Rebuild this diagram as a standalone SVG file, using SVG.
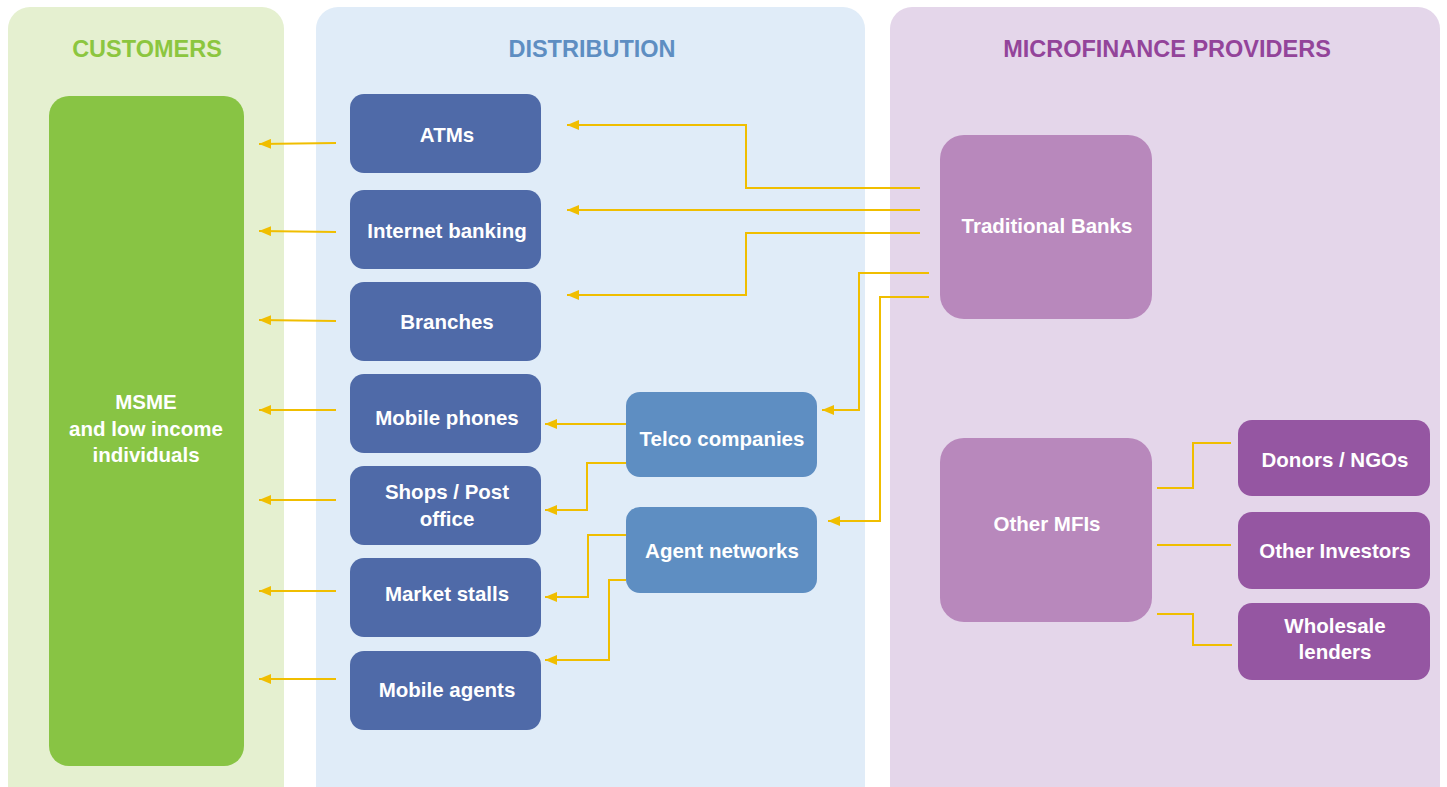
<svg xmlns="http://www.w3.org/2000/svg" width="1447" height="787" viewBox="0 0 1447 787">
<defs>
<marker id="ah" viewBox="0 0 12 10" refX="12" refY="5" markerWidth="12" markerHeight="10" markerUnits="userSpaceOnUse" orient="auto-start-reverse">
<path d="M12,5 L0,0 L0,10 Z" fill="#F0BE00"/>
</marker>
<style>
.hd{font-family:"Liberation Sans",Arial,sans-serif;font-weight:bold;font-size:23.5px;text-anchor:middle}
.t{font-family:"Liberation Sans",Arial,sans-serif;font-weight:bold;font-size:20.5px;fill:#fff;text-anchor:middle}
.d{fill:#4F6AA8}
.m{fill:#5E8EC2}
.b{fill:#B888BC}
.p{fill:#9556A2}
.c{fill:none;stroke:#F0BE00;stroke-width:2}
.a{marker-start:url(#ah)}
</style>
</defs>
<g id="panels">
<rect x="8" y="7" width="276" height="800" rx="22" fill="#E5F0D0"/>
<rect x="316" y="7" width="549" height="800" rx="22" fill="#E0ECF8"/>
<rect x="890" y="7" width="550" height="800" rx="22" fill="#E4D6EA"/>
<text class="hd" x="147" y="57" fill="#8CC63F">CUSTOMERS</text>
<text class="hd" x="592" y="57" fill="#5E8EC2">DISTRIBUTION</text>
<text class="hd" x="1167" y="57" fill="#93449A">MICROFINANCE PROVIDERS</text>
</g>
<g id="msme">
<rect x="49" y="96" width="195" height="670" rx="20" fill="#88C444"/>
<text class="t" x="146" y="409">MSME</text>
<text class="t" x="146" y="436">and low income</text>
<text class="t" x="146" y="462">individuals</text>
</g>
<g id="atms"><rect class="d" x="350" y="94" width="191" height="79" rx="14"/><text class="t" x="447" y="142">ATMs</text></g>
<g id="internet"><rect class="d" x="350" y="190" width="191" height="79" rx="14"/><text class="t" x="447" y="238">Internet banking</text></g>
<g id="branches"><rect class="d" x="350" y="282" width="191" height="79" rx="14"/><text class="t" x="447" y="329">Branches</text></g>
<g id="mobilephones"><rect class="d" x="350" y="374" width="191" height="79" rx="14"/><text class="t" x="447" y="425">Mobile phones</text></g>
<g id="shops"><rect class="d" x="350" y="466" width="191" height="79" rx="14"/><text class="t" x="447" y="499">Shops / Post</text><text class="t" x="447" y="526">office</text></g>
<g id="stalls"><rect class="d" x="350" y="558" width="191" height="79" rx="14"/><text class="t" x="447" y="601">Market stalls</text></g>
<g id="mobileagents"><rect class="d" x="350" y="651" width="191" height="79" rx="14"/><text class="t" x="447" y="697">Mobile agents</text></g>
<g id="telco"><rect class="m" x="626" y="392" width="191" height="85" rx="14"/><text class="t" x="722" y="446">Telco companies</text></g>
<g id="agentnet"><rect class="m" x="626" y="507" width="191" height="86" rx="14"/><text class="t" x="722" y="558">Agent networks</text></g>
<g id="banks"><rect class="b" x="940" y="135" width="212" height="184" rx="24"/><text class="t" x="1047" y="233">Traditional Banks</text></g>
<g id="othermfis"><rect class="b" x="940" y="438" width="212" height="184" rx="24"/><text class="t" x="1047" y="531">Other MFIs</text></g>
<g id="donors"><rect class="p" x="1238" y="420" width="192" height="76" rx="14"/><text class="t" x="1335" y="467">Donors / NGOs</text></g>
<g id="investors"><rect class="p" x="1238" y="512" width="192" height="77" rx="14"/><text class="t" x="1335" y="558">Other Investors</text></g>
<g id="wholesale"><rect class="p" x="1238" y="603" width="192" height="77" rx="14"/><text class="t" x="1335" y="633">Wholesale</text><text class="t" x="1335" y="659">lenders</text></g>
<g id="connectors">
<path class="c a" d="M259,144 L336,143"/>
<path class="c a" d="M259,231 L336,232"/>
<path class="c a" d="M259,320 L336,321"/>
<path class="c a" d="M259,410 L336,410"/>
<path class="c a" d="M259,500 L336,500"/>
<path class="c a" d="M259,591 L336,591"/>
<path class="c a" d="M259,679 L336,679"/>
<path class="c a" d="M567,125 L746,125 L746,188 L920,188"/>
<path class="c a" d="M567,210 L920,210"/>
<path class="c a" d="M567,295 L746,295 L746,233 L920,233"/>
<path class="c a" d="M822,410 L859,410 L859,273 L929,273"/>
<path class="c a" d="M828,521 L880,521 L880,297 L929,297"/>
<path class="c a" d="M545,424 L626,424"/>
<path class="c a" d="M545,510 L587,510 L587,463 L626,463"/>
<path class="c a" d="M545,597 L588,597 L588,535 L626,535"/>
<path class="c a" d="M545,660 L609,660 L609,580 L626,580"/>
<path class="c" d="M1157,488 L1193,488 L1193,443 L1231,443"/>
<path class="c" d="M1157,545 L1231,545"/>
<path class="c" d="M1157,614 L1193,614 L1193,645 L1232,645"/>
</g>
</svg>
